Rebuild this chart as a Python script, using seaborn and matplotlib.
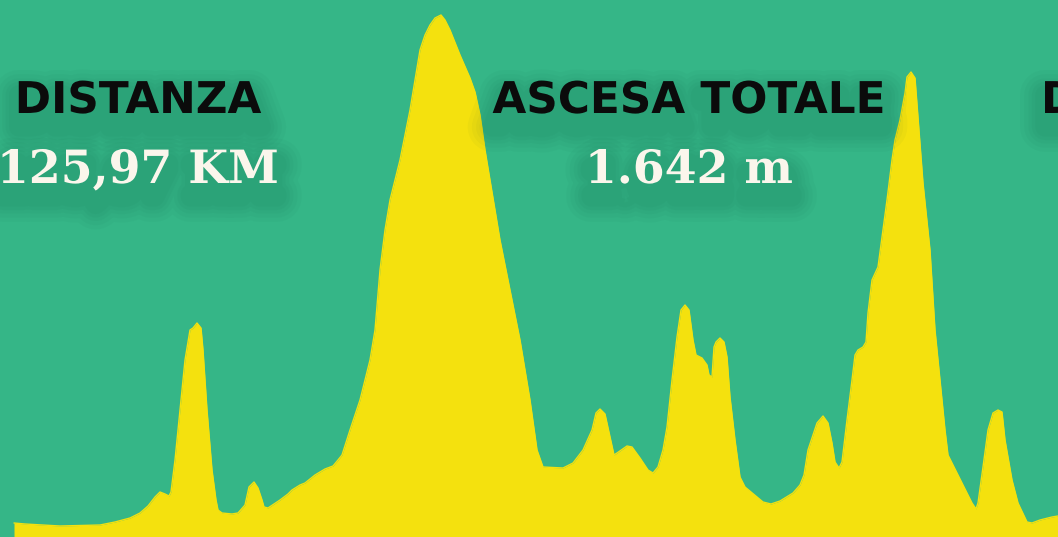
import numpy as np
import pandas as pd
import matplotlib
matplotlib.use("Agg")
import matplotlib.pyplot as plt
import matplotlib.patheffects as pe
import seaborn as sns

# Elevation profile (distance along route, elevation)
distance = [14, 25, 60, 100, 115, 130, 140, 148, 155, 160, 165, 169, 171,
            175, 180, 185, 190, 193, 197, 201, 203, 207, 212, 216, 218, 222, 232, 238,
            245, 249, 254, 258, 262, 264, 268, 280, 288, 292, 300, 305, 315, 325, 333, 338, 342,
            350, 360, 370, 375, 380, 385, 390, 395, 400, 404, 410, 415, 420, 425, 430, 435, 441,
            445, 450, 460, 470, 475, 480, 485, 490, 495, 500, 510, 520, 530, 537, 543,
            563, 573, 583, 592, 596, 600, 605, 610, 614, 617, 627, 632, 640, 648, 653, 658,
            663, 667, 672, 677, 681, 685, 689, 693, 696, 702, 707, 709, 712, 714, 716, 720,
            724, 727, 730, 735, 740, 745, 757, 763, 771, 780, 793, 800, 804, 808, 817, 823,
            828, 832, 835, 839, 842, 847, 852, 855, 858, 863, 866, 868, 872, 878, 887, 892,
            895, 900, 905, 907, 911, 915, 918, 923, 930, 935, 940, 945, 948, 957, 967, 972,
            976, 978, 983, 988, 993, 998, 1002, 1005, 1012, 1018, 1027, 1032, 1040, 1052, 1058]
elevation = [14, 13, 11, 12, 15, 19, 24, 31, 40, 45, 43, 41, 45,
             77, 127, 177, 207, 209, 214, 209, 187, 127, 67, 37, 27, 24, 23, 24,
             32, 50, 55, 49, 37, 30, 29, 37, 43, 47, 52, 54, 62, 68, 71, 77, 82,
             107, 137, 177, 207, 267, 307, 337, 357, 377, 397, 427, 457, 487, 502, 512, 519, 522,
             517, 507, 482, 459, 445, 422, 387, 357, 327, 297, 247, 197, 137, 87, 70,
             69, 74, 87, 107, 124, 128, 123, 100, 82, 84, 91, 90, 79, 67, 64, 70,
             87, 110, 157, 200, 227, 232, 227, 197, 182, 179, 172, 162, 160, 190, 195, 199,
             195, 180, 140, 97, 60, 50, 40, 35, 33, 36, 44, 52, 62, 87, 114, 121,
             114, 94, 75, 69, 75, 117, 157, 182, 187, 190, 195, 224, 257, 270, 337, 377,
             397, 417, 444, 460, 465, 459, 420, 354, 287, 207, 157, 107, 82, 64, 44, 34,
             28, 34, 70, 107, 124, 127, 125, 97, 57, 34, 15, 14, 17, 20, 21]

titles = ["DISTANZA", "ASCESA TOTALE", "DISLIVELLO"]
values = ["125,97 KM", "1.642 m", ""]
title_x = [138, 689, 1041]

green = "#35B687"
yellow = "#F4E10E"


class SoftShadow(pe.AbstractPathEffect):
    """Fuzzy shadow: several faint, wide outline strokes without any fill."""

    def __init__(self, offset=(0, -10), widths=(36, 30, 24, 19, 14), color="#0d4a33", alpha=0.03):
        super().__init__(offset)
        self.widths = widths
        self.color = color
        self.alpha = alpha

    def draw_path(self, renderer, gc, tpath, affine, rgbFace=None):
        for w in self.widths:
            gc0 = renderer.new_gc()
            gc0.copy_properties(gc)
            gc0.set_linewidth(w)
            gc0.set_foreground(self.color)
            gc0.set_alpha(self.alpha)
            gc0.set_joinstyle("round")
            gc0.set_capstyle("round")
            renderer.draw_path(gc0, tpath, affine + self._offset_transform(renderer), None)
            gc0.restore()


sns.set_theme(style="white")

profile = pd.DataFrame({"distance": distance, "elevation": elevation})

fig = plt.figure(figsize=(10.58, 5.37), dpi=100, facecolor=green)
ax = fig.add_axes([0, 0, 1, 1])
ax.set_facecolor(green)

ax.fill_between(profile["distance"], 0, profile["elevation"], color=yellow, lw=0)
sns.lineplot(data=profile, x="distance", y="elevation", ax=ax, color=yellow, lw=1.0)

ax.set_xlim(0, 1058)
ax.set_ylim(0, 537)
ax.axis("off")

shadow = [SoftShadow(), pe.Normal()]

for i, t in enumerate(titles):
    ha = "left" if i == 2 else "center"
    ax.text(title_x[i], 424, t, ha=ha, va="baseline", fontsize=31.5,
            fontweight="black", family="DejaVu Sans", color="#0B0B0B",
            path_effects=shadow)
    if values[i]:
        ax.text(title_x[i], 354, values[i], ha="center", va="baseline", fontsize=33,
                fontweight="bold", family="DejaVu Serif", color="#FBF6EC",
                path_effects=shadow)

fig.savefig("out.png", dpi=100, facecolor=green)
